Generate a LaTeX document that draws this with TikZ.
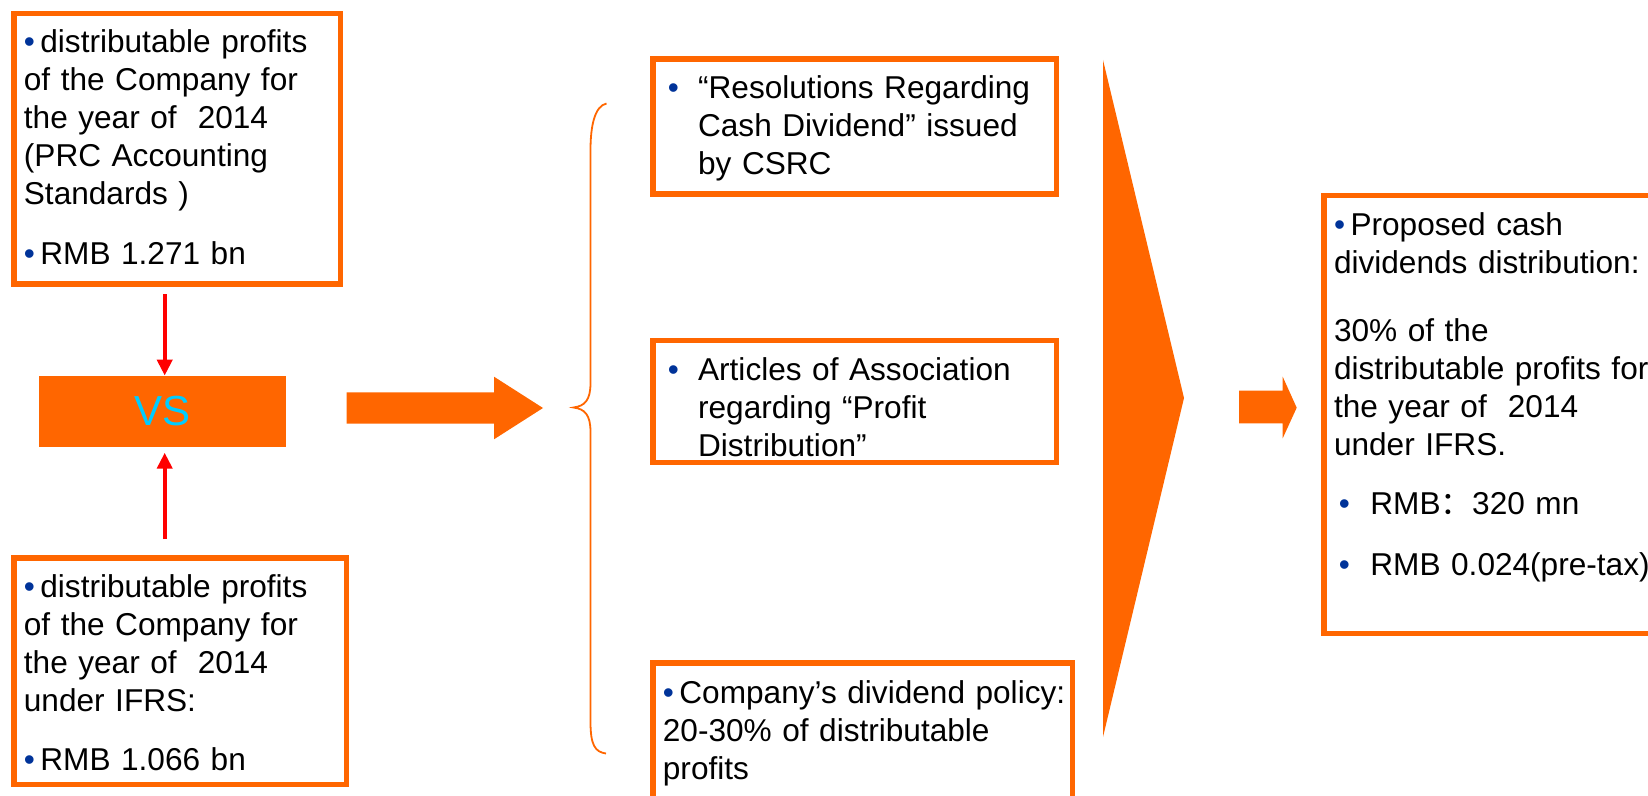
\documentclass[tikz,border=0pt]{standalone}
\usepackage{fontspec}
\setmainfont{Liberation Sans}
\newfontfamily\cjkfont{Noto Sans CJK SC}
\usetikzlibrary{arrows.meta}
\definecolor{orng}{RGB}{255,102,0}
\definecolor{bnavy}{RGB}{0,51,153}
\definecolor{vscyan}{RGB}{0,204,255}
\definecolor{redline}{RGB}{255,0,0}
\newcommand{\bul}{\makebox[8.25pt][l]{\textcolor{bnavy}{•}}}
\newcommand{\hbul}{\llap{\makebox[15.1pt][l]{\textcolor{bnavy}{•}}}}
\newcommand{\ibul}{\hspace*{2.45pt}\makebox[15.75pt][l]{\textcolor{bnavy}{•}}}
\begin{document}
\begin{tikzpicture}[x=0.5pt,y=-0.5pt,
  obox/.style={draw=orng, line width=2.75pt, rectangle, inner sep=0pt},
  txt/.style={anchor=base west, inner sep=0pt, text width=300pt, align=left,
              font=\fontsize{15.8}{19}\selectfont},
  redarrow/.style={draw=redline, line width=2pt, -{Triangle[length=8pt,width=7.5pt]}},
  orfill/.style={fill=orng, draw=none}]
\useasboundingbox (0,0) rectangle (1648,796);

% boxes
\node[obox, minimum width=163.25pt, minimum height=135.25pt] (A) at (177,149) {};
\node[obox, minimum width=166.25pt, minimum height=113.25pt] (B) at (180,671) {};
\node[obox, minimum width=201.75pt, minimum height=67.4pt] (M1) at (854.5,126.6) {};
\node[obox, minimum width=201.75pt, minimum height=60.75pt] (M2) at (854.5,401.5) {};
\node[obox, minimum width=209.75pt, minimum height=73.6pt] (M3) at (862.5,736.4) {};
\node[obox, minimum width=173.1pt, minimum height=218.9pt] (R) at (1496.9,414.4) {};
\node[orfill, minimum width=123.55pt, minimum height=35.35pt, inner sep=0pt,
      text=vscyan, font=\fontsize{21}{25}\selectfont] (VS) at (162.2,411.35) {VS};

% texts
\node[txt] (Atxt) at (23.5,53) {\bul distributable profits\\of the Company for\\the year of\ \ 2014\\(PRC Accounting\\Standards )\\[11pt]\bul RMB 1.271 bn};
\node[txt] (Btxt) at (23.5,597) {\bul distributable profits\\of the Company for\\the year of\ \ 2014\\under IFRS:\\[10.5pt]\bul RMB 1.066 bn};
\node[txt] (M1txt) at (697.7,98.3) {\hbul“Resolutions Regarding\\Cash Dividend” issued\\by CSRC};
\node[txt] (M2txt) at (697.7,380) {\hbul Articles of Association\\regarding “Profit\\Distribution”};
\node[txt] (M3txt) at (662.5,703.3) {\bul Company’s dividend policy:\\20-30\% of distributable\\profits};
\node[txt] (Rtxt) at (1333.6,236) {\bul Proposed cash\\dividends distribution:\\[14.85pt]30\% of the\\distributable profits for\\the year of\ \ 2014\\under IFRS.\\[10.65pt]\ibul RMB{\cjkfont ：}320 mn\\[11.5pt]\ibul RMB 0.024(pre-tax)};

% red arrows
\coordinate (vsN) at ([xshift=1.25pt]VS.north);
\coordinate (vsS) at ([xshift=1.25pt,yshift=-2.8pt]VS.south);
\coordinate (a1) at ([yshift=-3.7pt]A.south);
\coordinate (b1) at ([yshift=7.9pt]B.north);
\draw[redarrow] (a1 -| vsN) -- (vsN);
\draw[redarrow] (b1 -| vsS) -- (vsS);

% block arrow 1
\fill[orng] (346.7,392.3) -- (494,392.3) -- (494,376.7) -- (543,408) -- (494,439.3) -- (494,423.7) -- (346.7,423.7) -- cycle;

% brace
\draw[orng, line width=0.9pt] (606.5,103.5) .. controls (595,106) and (590.5,125) .. (590.5,150)
  -- (590.5,383) .. controls (590.5,400) and (585,406) .. (573.5,407.5)
  .. controls (585,409) and (590.5,415) .. (590.5,432)
  -- (590.5,722) .. controls (590.5,745) and (595,752) .. (606,753.5);

% chevron
\fill[orng] (1103,60) -- (1184,398) -- (1103,737) -- cycle;

% small arrow
\fill[orng] (1239,390.7) -- (1282.7,390.7) -- (1282.7,376.7) -- (1296.7,407.7) -- (1282.7,438.3) -- (1282.7,423.3) -- (1239,423.3) -- cycle;
\end{tikzpicture}
\end{document}
